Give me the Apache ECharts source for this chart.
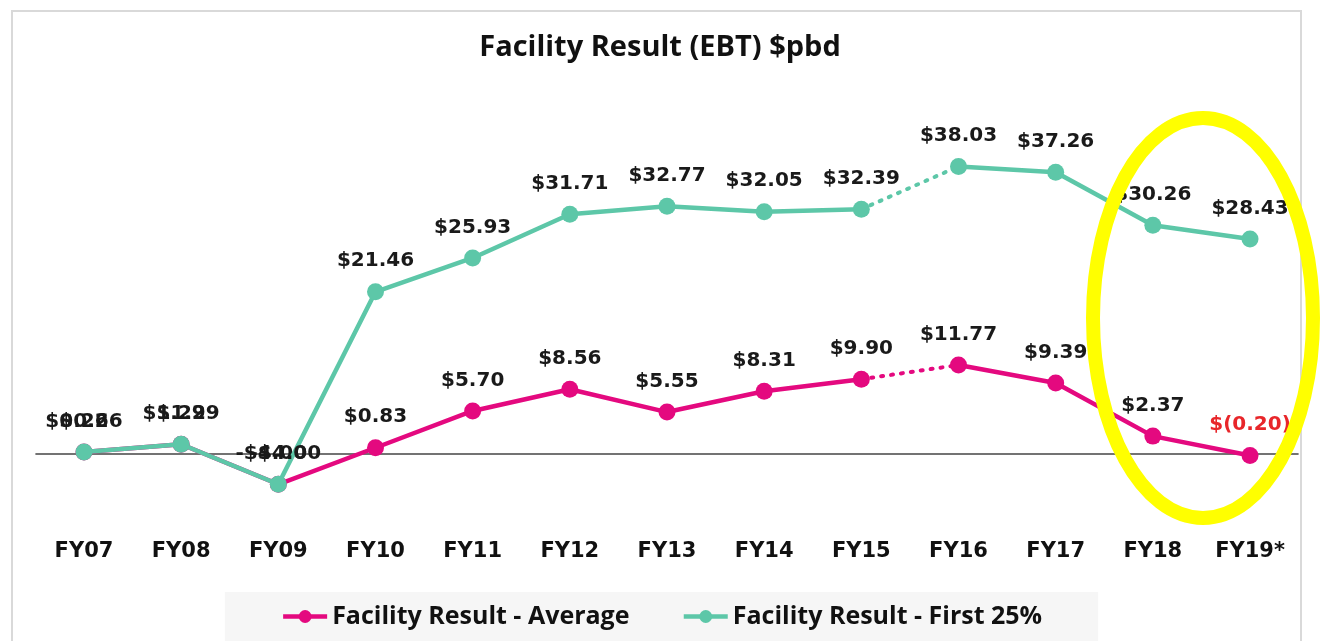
<!DOCTYPE html>
<html>
<head>
<meta charset="utf-8">
<script src="https://cdn.jsdelivr.net/npm/echarts@6/dist/echarts.min.js"></script>
<style>html,body{margin:0;padding:0;background:#fff;}#c{width:1323px;height:641px;}</style>
</head>
<body>
<div id="c"></div>
<script>
const categories = ['FY07','FY08','FY09','FY10','FY11','FY12','FY13','FY14','FY15','FY16','FY17','FY18','FY19*'];
const avgValues = [0.26, 1.29, -4.00, 0.83, 5.70, 8.56, 5.55, 8.31, 9.90, 11.77, 9.39, 2.37, -0.20];
const firstValues = [0.26, 1.29, -4.00, 21.46, 25.93, 31.71, 32.77, 32.05, 32.39, 38.03, 37.26, 30.26, 28.43];
const avgLabels = ['$0.26','$1.29','-$4.00','$0.83','$5.70','$8.56','$5.55','$8.31','$9.90','$11.77','$9.39','$2.37','$(0.20)'];
const firstLabels = ['$0.26','$1.29','-$4.00','$21.46','$25.93','$31.71','$32.77','$32.05','$32.39','$38.03','$37.26','$30.26','$28.43'];
const avgName = 'Facility Result - Average';
const firstName = 'Facility Result - First 25%';

const PINK = '#E4097F', TEAL = '#5DC7A8';
const dotFrom = 8, dotTo = 9; // FY15 -> FY16 dotted

function part(arr, a, b){ return arr.map((v,i)=> (i>=a && i<=b) ? v : null); }

function labelFor(labels){
  return {
    show: true, position: 'top', distance: 12,
    fontFamily: 'DejaVu Sans', fontWeight: 700, fontSize: 20, color: '#1a1a1a',
    formatter: p => labels[p.dataIndex]
  };
}

function dataWithLabels(arr, a, b, isAvg){
  return arr.map((v,i)=>{
    if (!(i>=a && i<=b)) return null;
    const o = {value: v};
    if (i <= 2) { o.label = {offset: [isAvg ? -7 : 7, 0]}; }
    if (isAvg && i === arr.length-1) { o.label = {color: '#E8262A'}; }
    return o;
  });
}

function solidSeries(name, arr, labels, color, a, b, isAvg, z){
  return {
    name, type: 'line', data: dataWithLabels(arr, a, b, isAvg),
    symbol: 'circle', symbolSize: 17, z,
    itemStyle: {color},
    lineStyle: {color, width: 4.5},
    label: labelFor(labels),
    connectNulls: false
  };
}
function dotSeries(name, arr, color, z){
  return {
    name, type: 'line', data: part(arr, dotFrom, dotTo),
    symbol: 'none', z, lineStyle: {color, width: 4, type: [2, 8], cap: 'round'},
    label: {show: false}, silent: true
  };
}

const series = [
  solidSeries(avgName, avgValues, avgLabels, PINK, 0, dotFrom, true, 2),
  solidSeries(avgName, avgValues, avgLabels, PINK, dotTo, avgValues.length-1, true, 2),
  dotSeries(avgName, avgValues, PINK, 2),
  solidSeries(firstName, firstValues, firstLabels, TEAL, 0, dotFrom, false, 3),
  solidSeries(firstName, firstValues, firstLabels, TEAL, dotTo, firstValues.length-1, false, 3),
  dotSeries(firstName, firstValues, TEAL, 3)
];
series[0].markLine = {
  silent: true, symbol: 'none', label: {show: false},
  lineStyle: {color: '#444', width: 1.5, type: 'solid'},
  data: [{yAxis: 0}], z: 1
};

const chart = echarts.init(document.getElementById('c'));
chart.setOption({
  backgroundColor: '#fff',
  animation: false,
  title: {
    text: 'Facility Result (EBT) $pbd', left: 655, top: 28, textAlign: 'center',
    textStyle: {fontFamily: 'Open Sans', fontWeight: 700, fontSize: 29, color: '#111'}
  },
  legend: {
    data: [avgName, firstName], left: 'center', bottom: 0,
    backgroundColor: '#f6f6f6', padding: [12, 56, 12, 56], itemGap: 52,
    itemWidth: 44, itemHeight: 16,
    lineStyle: {width: 4.5},
    textStyle: {fontFamily: 'Open Sans', fontWeight: 700, fontSize: 25, color: '#111'}
  },
  grid: {left: 35.4, right: 24.4, top: 151.6, bottom: 141.6},
  xAxis: {
    type: 'category', data: categories, boundaryGap: true,
    axisLine: {show: false}, axisTick: {show: false},
    axisLabel: {margin: 42, fontFamily: 'DejaVu Sans', fontWeight: 700, fontSize: 21, color: '#111'}
  },
  yAxis: {
    type: 'value', min: -6, max: 40, show: false, splitLine: {show: false}
  },
  graphic: [
    {type: 'rect', shape: {x: 12, y: 11, width: 1289, height: 640}, style: {fill: 'none', stroke: '#d9d9d9', lineWidth: 2}, z: -1},
    {type: 'ellipse', shape: {cx: 1203, cy: 318, rx: 110, ry: 200}, style: {fill: 'none', stroke: '#FFFF00', lineWidth: 14}, z: 100}
  ],
  series
});
</script>
</body>
</html>
